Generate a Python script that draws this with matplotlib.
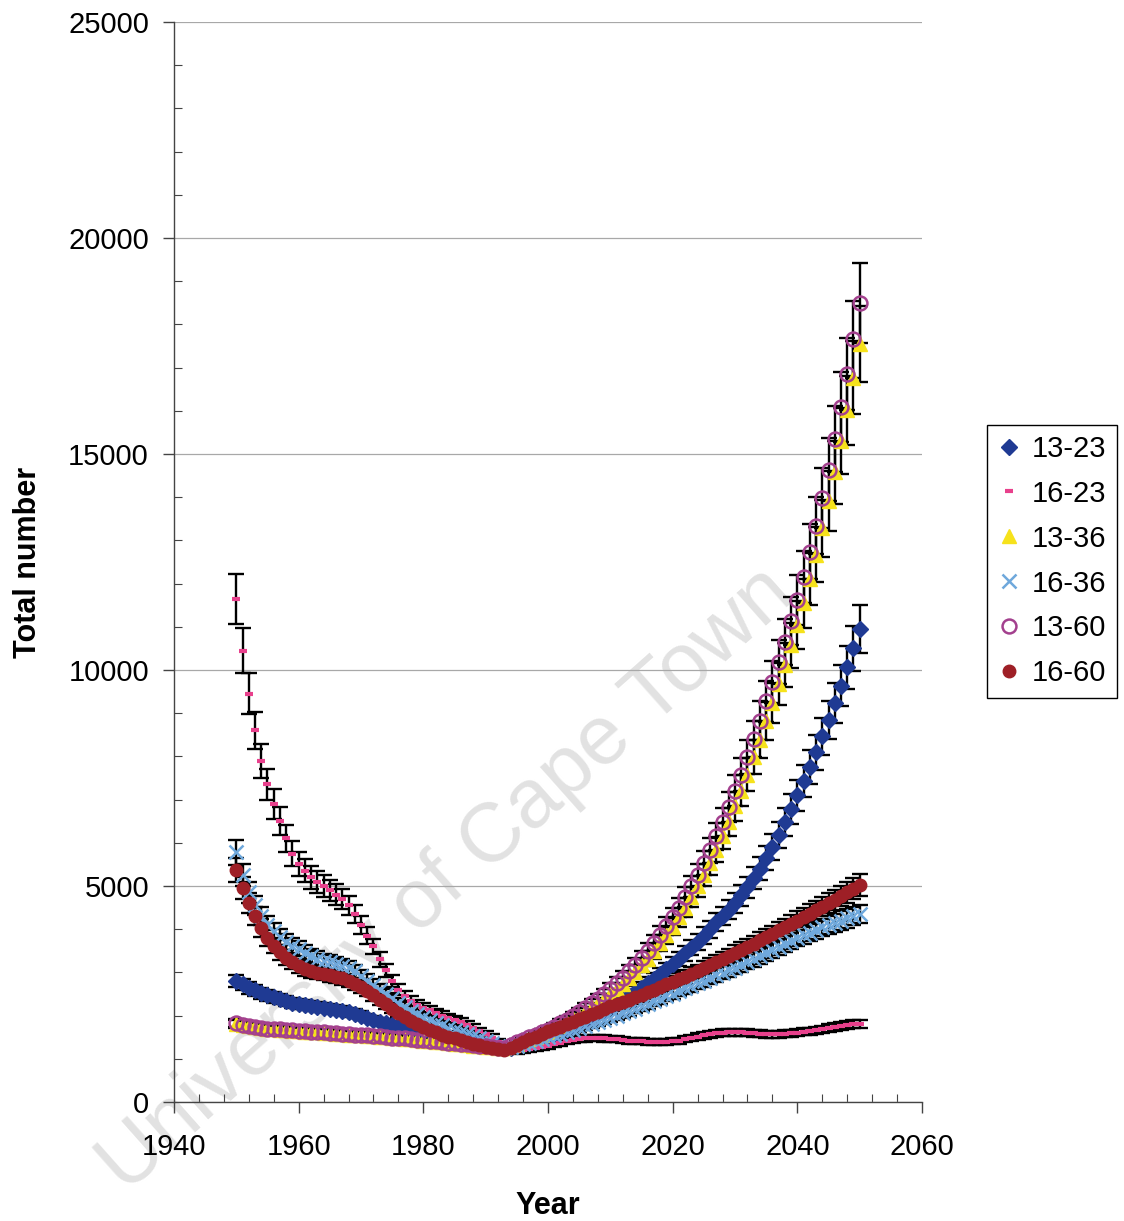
import matplotlib
matplotlib.use("Agg")
import matplotlib.pyplot as plt
from matplotlib.ticker import MultipleLocator
import numpy as np

plt.rcParams['font.family'] = ['Liberation Sans', 'DejaVu Sans']

years = list(range(1950, 2051))

s_13_23 = [2800, 2720, 2640, 2580, 2520, 2470, 2420, 2380, 2340, 2300,
           2270, 2240, 2220, 2200, 2180, 2160, 2140, 2110, 2080, 2040,
           2000, 1950, 1900, 1860, 1820, 1780, 1750, 1720, 1690, 1670,
           1640, 1610, 1590, 1560, 1530, 1500, 1470, 1440, 1410, 1380,
           1350, 1310, 1270, 1240, 1260, 1300, 1340, 1380, 1420, 1460,
           1500, 1560, 1620, 1690, 1760, 1830, 1900, 1970, 2040, 2120,
           2200, 2280, 2370, 2460, 2550, 2650, 2750, 2850, 2960, 3070,
           3190, 3310, 3440, 3570, 3710, 3850, 4000, 4160, 4300, 4450,
           4600, 4780, 4970, 5180, 5400, 5640, 5900, 6180, 6470, 6780,
           7100, 7420, 7750, 8100, 8460, 8840, 9230, 9640, 10060, 10500,
           10950]

s_16_23 = [11650, 10450, 9450, 8600, 7900, 7350, 6900, 6500, 6100, 5750,
           5500, 5350, 5200, 5100, 5000, 4900, 4800, 4700, 4550, 4350,
           4100, 3850, 3600, 3300, 3050, 2800, 2600, 2450, 2330, 2250,
           2180, 2120, 2060, 2000, 1950, 1900, 1840, 1780, 1710, 1640,
           1570, 1490, 1380, 1250, 1190, 1180, 1200, 1220, 1250, 1270,
           1300, 1330, 1360, 1400, 1430, 1450, 1470, 1480, 1480, 1470,
           1460, 1450, 1440, 1420, 1410, 1400, 1390, 1380, 1380, 1390,
           1400, 1420, 1450, 1480, 1510, 1540, 1570, 1590, 1600, 1610,
           1610, 1610, 1600, 1590, 1580, 1570, 1570, 1570, 1580, 1590,
           1600, 1620, 1640, 1660, 1680, 1710, 1730, 1760, 1780, 1800,
           1810]

s_13_36 = [1800, 1775, 1750, 1730, 1710, 1690, 1680, 1670, 1660, 1650,
           1640, 1630, 1620, 1610, 1600, 1590, 1580, 1570, 1560, 1550,
           1540, 1530, 1520, 1510, 1500, 1480, 1470, 1460, 1450, 1435,
           1420, 1405, 1390, 1380, 1365, 1350, 1335, 1320, 1305, 1290,
           1280, 1265, 1250, 1240, 1290, 1350, 1400, 1455, 1510, 1560,
           1610, 1680, 1750, 1830, 1910, 2000, 2090, 2190, 2290, 2390,
           2500, 2620, 2740, 2870, 3010, 3160, 3320, 3490, 3670, 3860,
           4060, 4270, 4500, 4740, 4990, 5250, 5540, 5840, 6160, 6490,
           6840, 7200, 7580, 7980, 8390, 8810, 9230, 9670, 10120, 10570,
           11040, 11540, 12100, 12670, 13280, 13910, 14580, 15290, 16010, 16770,
           17550]

s_16_36 = [5780, 5250, 4850, 4550, 4300, 4100, 3950, 3820, 3700, 3620,
           3550, 3450, 3380, 3320, 3270, 3230, 3190, 3150, 3100, 3020,
           2920, 2810, 2700, 2600, 2500, 2400, 2300, 2200, 2110, 2030,
           1960, 1890, 1830, 1770, 1720, 1670, 1620, 1570, 1520, 1470,
           1420, 1360, 1300, 1250, 1270, 1300, 1330, 1370, 1410, 1450,
           1500, 1540, 1580, 1620, 1660, 1710, 1750, 1800, 1850, 1900,
           1950, 2000, 2050, 2100, 2160, 2210, 2270, 2330, 2390, 2450,
           2510, 2570, 2630, 2690, 2750, 2810, 2870, 2930, 2990, 3050,
           3110, 3170, 3230, 3300, 3370, 3440, 3510, 3580, 3650, 3720,
           3790, 3860, 3920, 3980, 4040, 4100, 4150, 4200, 4250, 4300,
           4350]

s_13_60 = [1820, 1790, 1760, 1740, 1720, 1700, 1690, 1680, 1670, 1660,
           1650, 1640, 1630, 1620, 1610, 1600, 1590, 1580, 1570, 1560,
           1550, 1540, 1530, 1520, 1510, 1490, 1480, 1470, 1460, 1445,
           1430, 1415, 1400, 1390, 1375, 1360, 1345, 1330, 1315, 1300,
           1290, 1275, 1260, 1250, 1310, 1380, 1440, 1500, 1560, 1610,
           1670, 1740, 1820, 1900, 1990, 2080, 2180, 2280, 2390, 2500,
           2620, 2750, 2880, 3020, 3170, 3330, 3500, 3680, 3870, 4070,
           4280, 4500, 4740, 4990, 5250, 5530, 5830, 6150, 6480, 6830,
           7200, 7580, 7980, 8400, 8830, 9270, 9720, 10180, 10650, 11130,
           11620, 12150, 12740, 13340, 13980, 14640, 15350, 16090, 16850, 17650,
           18500]

s_16_60 = [5370, 4950, 4600, 4300, 4030, 3800, 3620, 3470, 3340, 3230,
           3150, 3080, 3030, 2990, 2960, 2930, 2900, 2860, 2810, 2740,
           2660, 2570, 2470, 2370, 2260, 2160, 2060, 1970, 1880, 1800,
           1730, 1670, 1610, 1560, 1510, 1470, 1430, 1390, 1350, 1310,
           1280, 1250, 1220, 1200, 1250, 1320, 1390, 1450, 1510, 1570,
           1640, 1690, 1740, 1800, 1850, 1910, 1970, 2030, 2090, 2150,
           2210, 2260, 2310, 2360, 2420, 2480, 2540, 2600, 2660, 2720,
           2780, 2840, 2900, 2970, 3030, 3100, 3170, 3240, 3310, 3380,
           3450, 3520, 3590, 3660, 3740, 3820, 3890, 3970, 4040, 4120,
           4200, 4280, 4360, 4440, 4520, 4600, 4680, 4770, 4850, 4940,
           5030]

labels = ["13-23", "16-23", "13-36", "16-36", "13-60", "16-60"]
series = [s_13_23, s_16_23, s_13_36, s_16_36, s_13_60, s_16_60]
styles = [
    dict(marker='D', color='#1F3A93', ms=8.5, mec='#1F3A93'),
    dict(marker='_', color='#E8408C', ms=6, mew=3),
    dict(marker='^', color='#F6E21B', ms=10, mec='#F6E21B'),
    dict(marker='x', color='#6FA8DC', ms=10, mew=1.8),
    dict(marker='o', color='#A3408E', ms=10, mfc='none', mew=1.8),
    dict(marker='o', color='#9E1F26', ms=9, mec='#9E1F26'),
]

fig = plt.figure(figsize=(11.24, 12.21), dpi=100)
ax = fig.add_axes([0.1548, 0.0975, 0.6655, 0.8845])
ax.patch.set_alpha(0)

# watermark behind everything
fig.text(0.397, 0.279, "University of Cape Town", rotation=41.6,
         fontsize=60, color='#e2e2e2', ha='center', va='center',
         zorder=-1)

handles = []
for vals, lab, st in zip(series, labels, styles):
    v = np.array(vals, dtype=float)
    ax.errorbar(years, v, yerr=0.05 * v, fmt='none', ecolor='black',
                elinewidth=1.7, capsize=6, capthick=1.7, zorder=2)
    h, = ax.plot(years, v, linestyle='none', label=lab, zorder=3, **st)
    handles.append(h)

ax.set_xlim(1940, 2060)
ax.set_ylim(0, 25000)
ax.xaxis.set_major_locator(MultipleLocator(20))
ax.xaxis.set_minor_locator(MultipleLocator(4))
ax.yaxis.set_major_locator(MultipleLocator(5000))
ax.yaxis.set_minor_locator(MultipleLocator(1000))
ax.tick_params(axis='both', which='major', labelsize=21, direction='out',
               length=8, width=1, color='#444444')
ax.tick_params(axis='x', which='major', pad=14)
ax.tick_params(axis='y', which='major', pad=10)
ax.tick_params(axis='both', which='minor', direction='in', length=6,
               width=0.8, color='#444444')
ax.yaxis.grid(True, color='#a8a8a8', linewidth=0.9)
ax.set_axisbelow(True)
for s in ['top', 'right']:
    ax.spines[s].set_visible(False)
for s in ['left', 'bottom']:
    ax.spines[s].set_color('#444444')
    ax.spines[s].set_linewidth(1)

ax.set_xlabel("Year", fontsize=22, fontweight='bold', labelpad=22)
ax.set_ylabel("Total number", fontsize=22, fontweight='bold', labelpad=18)

leg = fig.legend(handles, labels, loc='center left',
                 bbox_to_anchor=(0.865, 0.5405), fontsize=21,
                 frameon=True, fancybox=False, edgecolor='black',
                 handlelength=0.8, handletextpad=0.4, labelspacing=0.58,
                 borderpad=0.35, framealpha=1)
leg.get_frame().set_linewidth(1)

fig.savefig("out.png", dpi=100, facecolor='white')
